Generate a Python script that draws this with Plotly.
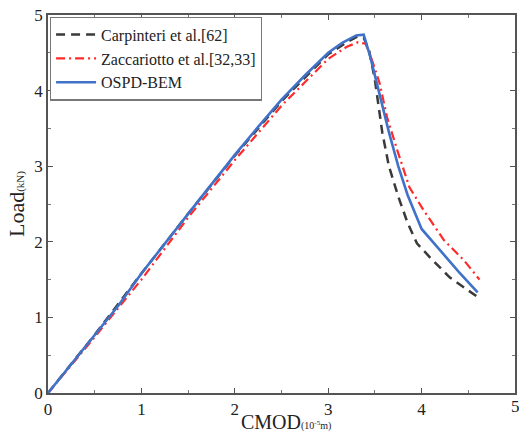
import plotly.graph_objects as go

# Carpinteri et al. [62]
carp_x = [0, 0.5, 1.0, 1.5, 2.0, 2.5, 3.0, 3.2, 3.32, 3.38, 3.44, 3.5, 3.58, 3.65, 3.75, 3.85, 3.95, 4.1, 4.3, 4.6]
carp_y = [0, 0.77, 1.58, 2.37, 3.14, 3.86, 4.48, 4.64, 4.72, 4.70, 4.52, 4.14, 3.44, 3.0, 2.6, 2.25, 1.98, 1.78, 1.53, 1.27]

# Zaccariotto et al. [32,33]
zacc_x = [0, 0.5, 1.0, 1.5, 2.0, 2.5, 2.75, 3.0, 3.2, 3.32, 3.4, 3.47, 3.55, 3.63, 3.74, 3.87, 4.02, 4.24, 4.45, 4.62]
zacc_y = [0, 0.74, 1.50, 2.32, 3.08, 3.80, 4.11, 4.42, 4.58, 4.64, 4.62, 4.40, 4.10, 3.65, 3.21, 2.72, 2.42, 2.02, 1.76, 1.50]

# OSPD-BEM
ospd_x = [0, 0.25, 0.5, 0.75, 1.0, 1.25, 1.5, 1.75, 2.0, 2.25, 2.5, 2.75, 3.0, 3.15, 3.3, 3.38, 3.45, 3.55, 3.65, 3.75, 3.85, 4.0, 4.2, 4.4, 4.6]
ospd_y = [0, 0.38, 0.76, 1.15, 1.58, 1.98, 2.37, 2.76, 3.15, 3.52, 3.88, 4.20, 4.50, 4.63, 4.73, 4.74, 4.45, 3.95, 3.45, 3.00, 2.62, 2.17, 1.88, 1.60, 1.33]

ticks = [0, 1, 2, 3, 4, 5]
x_title = 'CMOD<span style="font-size:10px">(10<sup>-5</sup>m)</span>'
y_title = 'Load<span style="font-size:11px">(kN)</span>'

FONT = "Liberation Serif"

fig = go.Figure()
fig.add_trace(go.Scatter(x=carp_x, y=carp_y, mode="lines", name="Carpinteri et al.[62]",
                         line=dict(color="#3a3a3a", width=2.5, dash="9px,6px")))
fig.add_trace(go.Scatter(x=zacc_x, y=zacc_y, mode="lines", name="Zaccariotto et al.[32,33]",
                         line=dict(color="#ff2a2a", width=2.2, dash="9px,4px,2px,4px")))
fig.add_trace(go.Scatter(x=ospd_x, y=ospd_y, mode="lines", name="OSPD-BEM",
                         line=dict(color="#3f72c8", width=2.6)))

axis_common = dict(
    range=[0, 5], tickvals=ticks, ticks="inside", ticklen=5, tickwidth=1,
    tickcolor="#555", showline=True, linecolor="#555", linewidth=1.5,
    mirror="ticks", showgrid=False, zeroline=False,
    tickfont=dict(family=FONT, size=17, color="#222"),
    minor=dict(dtick=0.5, ticks="inside", ticklen=3, tickcolor="#777"),
)

fig.update_layout(
    width=519, height=435,
    margin=dict(l=48, r=2, t=15, b=42),
    paper_bgcolor="white", plot_bgcolor="white",
    font=dict(family=FONT, color="#222"),
    xaxis=dict(**axis_common),
    yaxis=dict(**axis_common,
               title=dict(text=y_title,
                          font=dict(family=FONT, size=22, color="#222"), standoff=4)),
    legend=dict(x=0.004, y=0.996, xanchor="left", yanchor="top",
                bgcolor="white", bordercolor="#777", borderwidth=1.2,
                font=dict(family=FONT, size=16, color="#222"),
                tracegroupgap=0, itemwidth=40),
    showlegend=True,
)

# x-axis title placed just below the tick labels
fig.add_annotation(text=x_title, xref="paper", yref="paper", x=0.51, y=0,
                   xanchor="center", yanchor="top", yshift=-16, showarrow=False,
                   font=dict(family=FONT, size=20, color="#222"))
# right-edge tick label "5"
fig.add_annotation(text=str(ticks[-1]), xref="x", yref="paper", x=ticks[-1], y=0,
                   xanchor="center", yanchor="top", yshift=-2, showarrow=False,
                   font=dict(family=FONT, size=17, color="#222"))

fig.write_html("out.html")
